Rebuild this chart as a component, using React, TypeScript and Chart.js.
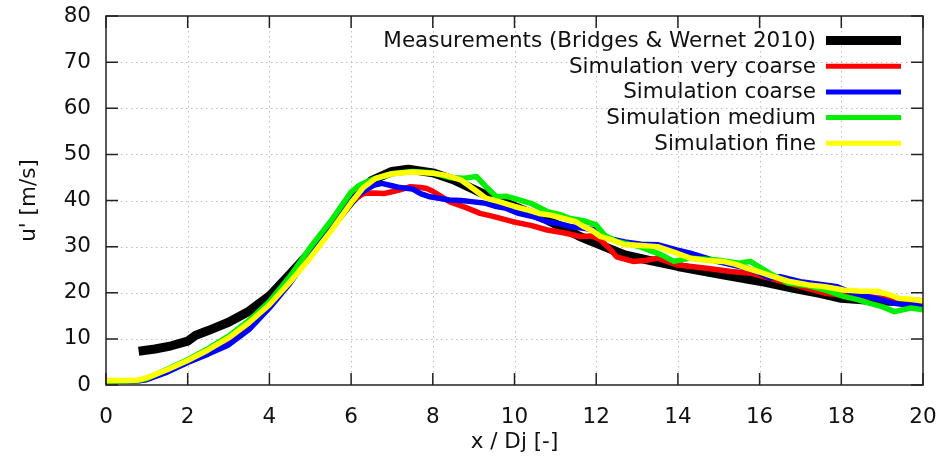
import React, { useEffect, useRef } from 'react';
import { Chart, registerables } from 'chart.js';

Chart.register(...registerables);

const X_TICKS = [0, 2, 4, 6, 8, 10, 12, 14, 16, 18, 20];
const Y_TICKS = [0, 10, 20, 30, 40, 50, 60, 70, 80];

const SERIES_LABELS = [
  'Measurements (Bridges & Wernet 2010)',
  'Simulation very coarse',
  'Simulation coarse',
  'Simulation medium',
  'Simulation fine',
];
const SERIES_COLORS = ['#000000', '#ff0000', '#0000ff', '#00ee00', '#ffff00'];

const measX = [0.8, 1.2, 1.6, 2.0, 2.2, 2.5, 3.0, 3.5, 4.0, 4.5, 5.0, 5.5, 6.0, 6.5, 7.0, 7.4, 8.0, 8.5, 9.2, 10.0, 10.8, 11.6, 12.2, 12.7, 13.3, 14.0, 15.1, 16.0, 16.8, 17.5, 18.0, 18.6, 19.3, 20.0];
const measY = [7.3, 7.8, 8.5, 9.5, 10.8, 11.8, 13.6, 16.0, 19.3, 24.0, 28.8, 34.3, 39.8, 44.3, 46.3, 46.8, 46.0, 44.5, 41.6, 38.7, 35.8, 32.2, 30.0, 28.2, 27.0, 25.7, 23.9, 22.5, 21.0, 19.8, 18.8, 18.4, 18.1, 17.9];

const vcoarseX = [0, 0.8, 1.0, 1.5, 2.0, 2.5, 3.0, 3.5, 4.0, 4.5, 5.0, 5.5, 6.0, 6.3, 6.55, 6.8, 7.0, 7.2, 7.45, 7.7, 7.85, 8.0, 8.18, 8.42, 8.8, 9.16, 9.5, 9.96, 10.4, 10.8, 11.2, 11.6, 11.9, 12.1, 12.3, 12.5, 12.9, 13.2, 13.5, 14.0, 14.7, 15.3, 15.8, 16.3, 16.9, 17.6, 18.2, 18.8, 19.3, 19.7, 20.0];
const vcoarseY = [0.8, 0.9, 1.2, 2.9, 5.1, 7.0, 9.2, 12.6, 17.2, 22.5, 28.5, 34.3, 39.8, 41.5, 41.6, 41.5, 41.9, 42.3, 43.0, 42.8, 42.6, 42.0, 41.0, 39.7, 38.5, 37.2, 36.5, 35.4, 34.6, 33.6, 33.0, 32.2, 32.3, 31.5, 29.8, 27.8, 26.8, 27.0, 27.5, 26.0, 25.3, 24.6, 24.2, 23.0, 21.6, 19.9, 19.3, 19.0, 18.5, 18.2, 18.2];

const coarseX = [0, 0.8, 1.0, 1.5, 2.0, 2.5, 3.0, 3.5, 4.0, 4.5, 5.0, 5.5, 6.0, 6.3, 6.55, 6.75, 7.0, 7.2, 7.5, 7.7, 7.93, 8.4, 8.7, 9.0, 9.3, 9.56, 9.8, 10.1, 10.5, 10.8, 11.1, 11.4, 11.7, 12.0, 12.3, 12.7, 13.1, 13.5, 13.97, 14.3, 14.6, 14.95, 15.3, 15.7, 16.0, 16.25, 16.5, 17.0, 17.5, 17.9, 18.2, 18.5, 18.9, 19.3, 19.7, 20.0];
const coarseY = [0.8, 0.9, 1.2, 2.8, 4.9, 6.7, 8.7, 12.0, 16.7, 22.0, 28.3, 34.0, 40.0, 42.0, 43.3, 43.7, 43.2, 42.8, 42.5, 41.5, 40.8, 40.1, 40.0, 39.7, 39.4, 38.7, 38.3, 37.2, 36.4, 35.4, 35.0, 34.3, 34.0, 33.6, 31.8, 31.0, 30.5, 30.4, 29.3, 28.6, 27.8, 26.8, 26.1, 25.3, 24.3, 23.2, 23.5, 22.4, 21.8, 21.3, 20.2, 19.5, 18.6, 17.7, 17.3, 17.4];

const mediumX = [0, 0.8, 1.0, 1.5, 2.0, 2.5, 3.0, 3.5, 4.0, 4.5, 5.0, 5.5, 6.0, 6.2, 6.5, 7.0, 7.5, 8.0, 8.4, 8.75, 9.07, 9.3, 9.56, 9.8, 9.97, 10.4, 10.8, 11.1, 11.36, 11.7, 12.0, 12.2, 12.5, 13.07, 13.6, 13.9, 14.3, 14.95, 15.5, 15.77, 16.25, 16.7, 17.2, 17.6, 18.05, 18.4, 18.7, 19.0, 19.3, 19.7, 20.0];
const mediumY = [0.8, 1.0, 1.4, 3.4, 5.5, 7.9, 10.6, 14.0, 18.1, 23.5, 29.8, 35.5, 41.8, 43.3, 44.5, 45.8, 46.3, 46.0, 45.0, 44.8, 45.2, 43.0, 40.8, 40.9, 40.5, 39.4, 37.6, 37.0, 36.1, 35.6, 34.7, 32.5, 31.1, 30.0, 28.2, 26.8, 27.5, 27.1, 26.4, 26.8, 24.2, 22.1, 21.5, 20.6, 19.2, 18.5, 17.7, 17.0, 15.9, 16.7, 16.3];

const fineX = [0, 0.5, 0.8, 1.0, 1.5, 2.0, 2.5, 3.0, 3.5, 4.0, 4.5, 5.0, 5.5, 6.0, 6.3, 6.6, 7.0, 7.5, 8.0, 8.3, 8.7, 9.0, 9.3, 9.6, 10.0, 10.3, 10.6, 10.9, 11.2, 11.5, 11.7, 11.9, 12.1, 12.3, 12.7, 13.0, 13.5, 13.9, 14.3, 14.7, 15.1, 15.4, 15.7, 16.0, 16.3, 16.7, 17.2, 17.6, 18.05, 18.5, 18.9, 19.2, 19.4, 19.7, 20.0];
const fineY = [1.0, 1.0, 1.1, 1.6, 3.3, 5.3, 7.6, 10.2, 13.5, 17.4, 22.3, 27.6, 33.3, 39.5, 42.8, 44.8, 45.8, 46.2, 45.9, 45.5, 44.4, 42.5, 40.5, 39.8, 38.7, 38.0, 37.2, 36.8, 36.1, 35.4, 34.3, 33.5, 32.2, 31.7, 30.4, 30.3, 30.0, 28.8, 27.5, 27.0, 26.8, 26.2, 25.3, 24.5, 23.6, 22.5, 21.7, 21.3, 20.6, 20.3, 20.3, 19.5, 18.8, 18.6, 18.2];

const SERIES_X = [measX, vcoarseX, coarseX, mediumX, fineX];
const SERIES_Y = [measY, vcoarseY, coarseY, mediumY, fineY];
const SERIES_WIDTHS = [9, 5.5, 5.5, 5.5, 5.5];

const FONT = 'DejaVu Sans';
const FONT_SIZE = 21.5;
const TEXT_COLOR = '#111111';

const framePlugin = {
  id: 'gnuFrame',
  beforeDraw(chart: any) {
    const { ctx, width, height } = chart;
    ctx.save();
    ctx.fillStyle = '#ffffff';
    ctx.fillRect(0, 0, width, height);
    ctx.restore();
  },
  beforeDatasetsDraw(chart: any) {
    const { ctx, chartArea: a, scales } = chart;
    const xs = scales.x;
    const ys = scales.y;
    ctx.save();
    ctx.strokeStyle = '#bdbdbd';
    ctx.lineWidth = 1;
    ctx.setLineDash([1.5, 3.5]);
    X_TICKS.forEach((v) => {
      if (v === X_TICKS[0] || v === X_TICKS[X_TICKS.length - 1]) return;
      const px = Math.round(xs.getPixelForValue(v)) + 0.5;
      ctx.beginPath();
      ctx.moveTo(px, a.top);
      ctx.lineTo(px, a.bottom);
      ctx.stroke();
    });
    Y_TICKS.forEach((v) => {
      if (v === Y_TICKS[0] || v === Y_TICKS[Y_TICKS.length - 1]) return;
      const py = Math.round(ys.getPixelForValue(v)) + 0.5;
      ctx.beginPath();
      ctx.moveTo(a.left, py);
      ctx.lineTo(a.right, py);
      ctx.stroke();
    });
    ctx.restore();
  },
  afterDatasetsDraw(chart: any) {
    const { ctx, chartArea: a, scales } = chart;
    const xs = scales.x;
    const ys = scales.y;
    ctx.save();
    ctx.strokeStyle = '#222222';
    ctx.lineWidth = 1.5;
    ctx.setLineDash([]);
    ctx.strokeRect(a.left, a.top, a.right - a.left, a.bottom - a.top);
    const tl = 12;
    X_TICKS.forEach((v) => {
      const px = xs.getPixelForValue(v);
      ctx.beginPath();
      ctx.moveTo(px, a.bottom);
      ctx.lineTo(px, a.bottom - tl);
      ctx.moveTo(px, a.top);
      ctx.lineTo(px, a.top + tl);
      ctx.stroke();
    });
    Y_TICKS.forEach((v) => {
      const py = ys.getPixelForValue(v);
      ctx.beginPath();
      ctx.moveTo(a.left, py);
      ctx.lineTo(a.left + tl, py);
      ctx.moveTo(a.right, py);
      ctx.lineTo(a.right - tl, py);
      ctx.stroke();
    });

    // gnuplot-style key: text right-aligned, sample line on the right
    ctx.font = `${FONT_SIZE}px "${FONT}"`;
    ctx.fillStyle = TEXT_COLOR;
    ctx.textAlign = 'right';
    ctx.textBaseline = 'middle';
    const textRight = a.right - 107;
    const lineL = a.right - 97;
    const lineR = a.right - 22;
    chart.data.datasets.forEach((ds: any, i: number) => {
      const cy = a.top + 24.5 + i * 25.7;
      ctx.fillText(ds.label, textRight, cy + 1);
      ctx.strokeStyle = ds.borderColor;
      ctx.lineWidth = i === 0 ? 9 : 5;
      ctx.lineCap = 'butt';
      ctx.beginPath();
      ctx.moveTo(lineL, cy);
      ctx.lineTo(lineR, cy);
      ctx.stroke();
    });
    ctx.restore();
  },
};

export default function App() {
  const ref = useRef<HTMLCanvasElement | null>(null);

  useEffect(() => {
    if (!ref.current) return;
    const datasets = SERIES_LABELS.map((label, i) => ({
      label,
      data: SERIES_X[i].map((x, j) => ({ x, y: SERIES_Y[i][j] })),
      borderColor: SERIES_COLORS[i],
      backgroundColor: SERIES_COLORS[i],
      borderWidth: SERIES_WIDTHS[i],
      pointRadius: 0,
      tension: 0,
      fill: false,
      borderJoinStyle: 'round' as const,
      borderCapStyle: 'butt' as const,
      order: SERIES_LABELS.length - i,
    }));

    const zeroPad = (s: any) => {
      s.paddingLeft = 0;
      s.paddingRight = 0;
      s.paddingTop = 0;
      s.paddingBottom = 0;
    };

    const chart = new Chart(ref.current, {
      type: 'line',
      data: { datasets },
      options: {
        animation: false,
        responsive: false,
        events: [],
        layout: { padding: { top: 16, right: 20, left: 0, bottom: 0 } },
        plugins: {
          legend: { display: false },
          tooltip: { enabled: false },
        },
        scales: {
          x: {
            type: 'linear',
            min: 0,
            max: 20,
            grid: { display: false, drawTicks: false, tickLength: 0 },
            border: { display: false },
            afterFit: (s: any) => {
              s.height = 81;
              zeroPad(s);
            },
            afterBuildTicks: (s: any) => {
              s.ticks = X_TICKS.map((v) => ({ value: v }));
            },
            ticks: {
              color: TEXT_COLOR,
              font: { family: FONT, size: FONT_SIZE },
              padding: 20,
              maxRotation: 0,
              autoSkip: false,
            },
            title: {
              display: true,
              text: 'x / Dj [-]',
              color: TEXT_COLOR,
              font: { family: FONT, size: FONT_SIZE },
              padding: { top: 0, bottom: 11 },
            },
          },
          y: {
            type: 'linear',
            min: 0,
            max: 80,
            grid: { display: false, drawTicks: false, tickLength: 0 },
            border: { display: false },
            afterFit: (s: any) => {
              s.width = 106;
              zeroPad(s);
            },
            afterBuildTicks: (s: any) => {
              s.ticks = Y_TICKS.map((v) => ({ value: v }));
            },
            ticks: {
              color: TEXT_COLOR,
              font: { family: FONT, size: FONT_SIZE },
              padding: 15,
              autoSkip: false,
            },
            title: {
              display: true,
              text: "u' [m/s]",
              color: TEXT_COLOR,
              font: { family: FONT, size: FONT_SIZE },
              padding: { top: 17, bottom: 0 },
            },
          },
        },
      },
      plugins: [framePlugin],
    });

    return () => {
      chart.destroy();
    };
  }, []);

  return (
    <div style={{ position: 'fixed', left: 0, top: 0, width: 943, height: 466, background: '#fff' }}>
      <canvas ref={ref} width={943} height={466} style={{ display: 'block' }} />
    </div>
  );
}
